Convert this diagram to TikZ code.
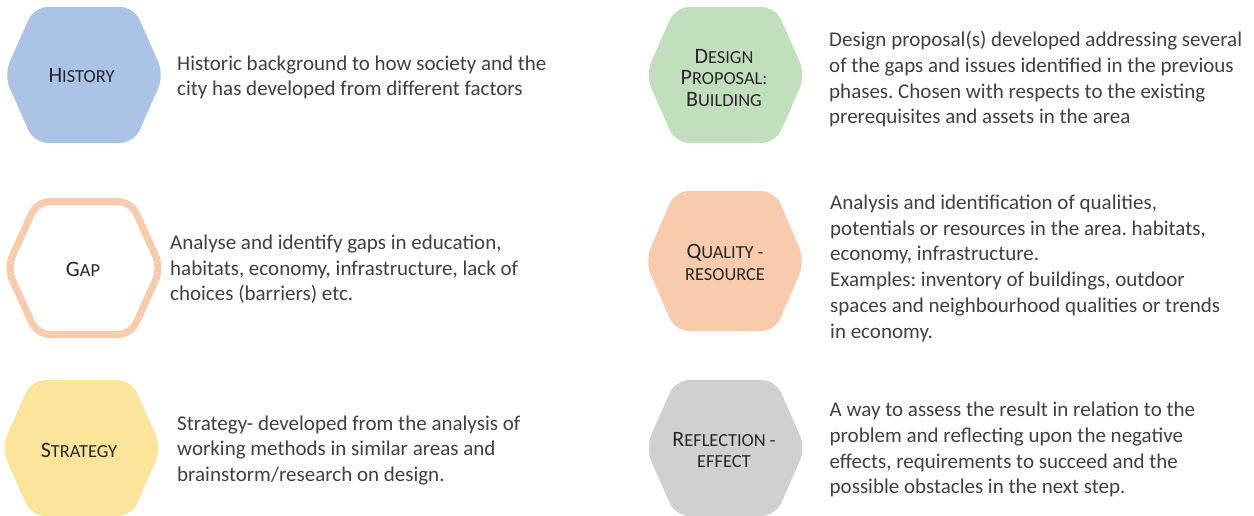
\documentclass[tikz,border=0pt]{standalone}
\usepackage{fontspec}
\setmainfont{Carlito}
\frenchspacing
\definecolor{histc}{HTML}{ABC4E5}
\definecolor{designc}{HTML}{C1DFBC}
\definecolor{qualc}{HTML}{F8CBAD}
\definecolor{gapc}{HTML}{F8CBAD}
\definecolor{stratc}{HTML}{FCE59A}
\definecolor{reflc}{HTML}{D0D0D2}
\definecolor{bodytxt}{HTML}{404040}
\definecolor{labeltxt}{HTML}{262626}
\newcommand\Bc[1]{{\fontsize{22}{21.5}\selectfont #1}}
\newcommand\Sc[1]{{\fontsize{18.4}{21.5}\selectfont #1}}
\newcommand\txtblock[1]{\begin{tabular}[t]{@{}l@{}}#1\end{tabular}}
% hexagon: center x, center y, half width, top half width, half height, style
\newcommand\hexa[6]{%
  \path[#6] (#1,#2-#5) -- (#1+#4,#2-#5) -- (#1+#3,#2) -- (#1+#4,#2+#5)
    -- (#1-#4,#2+#5) -- (#1-#3,#2) -- (#1-#4,#2-#5) -- cycle;}
\tikzset{
  hexfill/.style={fill=#1, rounded corners=14pt},
  hexring/.style={draw=#1, fill=white, line width=7pt, rounded corners=13pt},
  lbl/.style={align=center, text=labeltxt, inner sep=0pt, font=\fontsize{18.4}{21.5}\selectfont},
  desc/.style={anchor=base west, inner sep=0pt, text=bodytxt, font=\fontsize{21}{25.7}\selectfont},
}
\begin{document}
\begin{tikzpicture}[x=1pt,y=-1pt]
\useasboundingbox (0,0) rectangle (1254,515);
% hexagons
\hexa{84}{75}{80}{50}{68}{hexfill=histc}
\hexa{84}{268}{77}{47}{66.5}{hexring=gapc}
\hexa{81.5}{448}{80}{50}{68}{hexfill=stratc}
\hexa{725.5}{75}{80}{50}{68}{hexfill=designc}
\hexa{725}{261}{80}{50}{70}{hexfill=qualc}
\hexa{725.5}{448}{80}{50}{68}{hexfill=reflc}
% labels
\node[lbl] (lhist) at (81.5,76) {\Bc{H}\Sc{ISTORY}};
\node[lbl] (lgap) at (83,269.5) {\Bc{G}\Sc{AP}};
\node[lbl] (lstrat) at (79,450) {\Bc{S}\Sc{TRATEGY}};
\node[lbl] (ldesign) at (724,78) {\Bc{D}\Sc{ESIGN}\\\Bc{P}\Sc{ROPOSAL:}\\\Bc{B}\Sc{UILDING}};
\node[lbl] (lqual) at (725,262.5) {\Bc{Q}\Sc{UALITY -}\\\Sc{RESOURCE}};
\node[lbl] (lrefl) at (724,450) {\Bc{R}\Sc{EFLECTION -}\\\Sc{EFFECT}};
% descriptions
\node[desc] (dhist) at (177,70) {\txtblock{Historic background to how society and the\\city has developed from different factors}};
\node[desc] (dgap) at (170,249.5) {\txtblock{Analyse and identify gaps in education,\\habitats, economy, infrastructure, lack of\\choices (barriers) etc.}};
\node[desc] (dstrat) at (177,430) {\txtblock{Strategy- developed from the analysis of\\working methods in similar areas and\\brainstorm/research on design.}};
\node[desc] (ddesign) at (829,46.7) {\txtblock{Design proposal(s) developed addressing several\\of the gaps and issues identified in the previous\\phases. Chosen with respects to the existing\\prerequisites and assets in the area}};
\node[desc] (dqual) at (830,209.5) {\txtblock{Analysis and identification of qualities,\\potentials or resources in the area. habitats,\\economy, infrastructure.\\Examples: inventory of buildings, outdoor\\spaces and neighbourhood qualities or trends\\in economy.}};
\node[desc] (drefl) at (829.5,416.7) {\txtblock{A way to assess the result in relation to the\\problem and reflecting upon the negative\\effects, requirements to succeed and the\\possible obstacles in the next step.}};
\end{tikzpicture}
\end{document}
